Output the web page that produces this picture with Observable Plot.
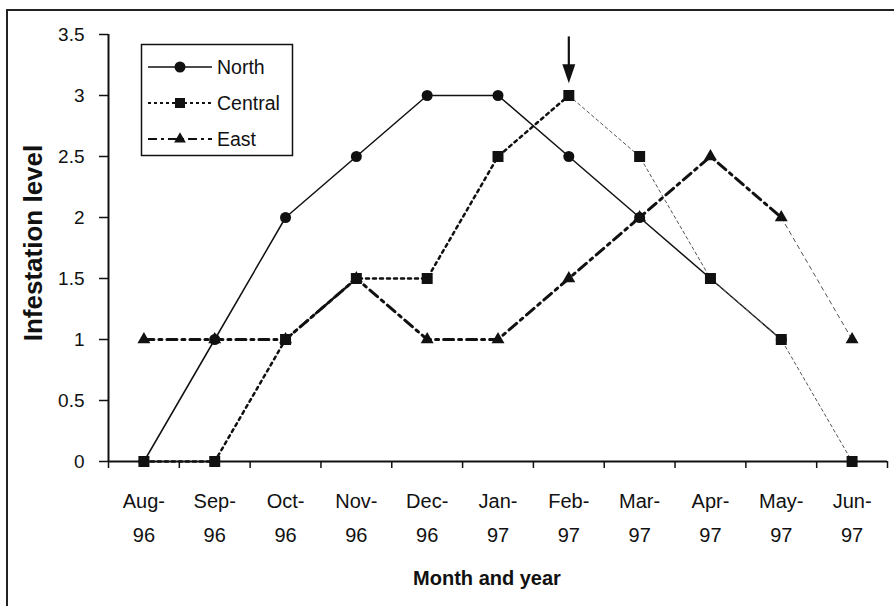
<!DOCTYPE html>
<html>
<head>
<meta charset="utf-8">
<script src="https://cdn.jsdelivr.net/npm/d3@7"></script>
<script src="https://cdn.jsdelivr.net/npm/@observablehq/plot@0.6"></script>
<style>
  html, body { margin: 0; padding: 0; background: #fff; }
  #wrap { position: relative; width: 894px; height: 606px; overflow: hidden; font-family: "Liberation Sans", Arial, sans-serif; }
  #border { position: absolute; left: 6px; top: 9px; width: 920px; height: 640px; border: 2px solid #222; box-sizing: border-box; pointer-events: none; }
  #legend { position: absolute; left: 0; top: 0; }
</style>
</head>
<body>
<div id="wrap"><div id="border"></div></div>
<script>
const categories = ["Aug-96","Sep-96","Oct-96","Nov-96","Dec-96","Jan-97","Feb-97","Mar-97","Apr-97","May-97","Jun-97"];
const north   = [0, 1, 2, 2.5, 3, 3, 2.5, 2, 1.5, 1, null];
const central = [0, 0, 1, 1.5, 1.5, 2.5, 3, 2.5, 1.5, 1, 0];
const east    = [1, 1, 1, 1.5, 1, 1, 1.5, 2, 2.5, 2, 1];
const seriesNames = ["North", "Central", "East"];
const yTicks = [0, 0.5, 1, 1.5, 2, 2.5, 3, 3.5];
const arrowAt = "Feb-97";
const xTitle = "Month and year";
const yTitle = "Infestation level";

const rows = vals => vals.map((v, i) => ({i, v})).filter(d => d.v != null);
const N = rows(north), C = rows(central), E = rows(east);
const idx = d3.range(categories.length);
const bounds = d3.range(categories.length + 1).map(i => i - 0.5);
const arrowIdx = categories.indexOf(arrowAt);
const arrowTip = central[arrowIdx] + 0.1;
const ink = "#111";
const font = '"Liberation Sans", Arial, sans-serif';

const arrowHead = { draw(c) { c.moveTo(0, 0); c.lineTo(-6.5, -19); c.lineTo(6.5, -19); c.closePath(); } };

const centralSplit = arrowIdx;          // thin dashed after the arrow month
const eastSplit = categories.indexOf("May-97");

const chart = Plot.plot({
  width: 894, height: 606,
  marginLeft: 108, marginRight: 7, marginTop: 34, marginBottom: 145,
  style: { fontFamily: font, color: ink, background: "transparent", overflow: "visible" },
  x: { domain: [-0.5, categories.length - 0.5] },
  y: { domain: [0, 3.5] },
  marks: [
    Plot.axisY({ ticks: yTicks, tickSize: 9, tickPadding: 15, fontSize: 19, label: null, strokeWidth: 1.5, tickFormat: d => String(d) }),
    Plot.axisX({ ticks: bounds, tickSize: 7, tickFormat: () => "", label: null, strokeWidth: 1.5 }),
    Plot.axisX({ ticks: idx, tickSize: 0, tickPadding: 22, fontSize: 20, lineHeight: 1.7,
                 tickFormat: i => categories[i].replace("-", "-\n"), label: null }),
    Plot.ruleX([-0.5], { y1: 0, y2: 3.5, stroke: ink, strokeWidth: 2 }),
    Plot.ruleY([0], { stroke: ink, strokeWidth: 2 }),
    Plot.text([xTitle], { frameAnchor: "bottom", dx: -11, dy: 109, lineAnchor: "top", fontSize: 20, fontWeight: "bold", fill: ink }),
    // North
    Plot.line(N, { x: "i", y: "v", stroke: ink, strokeWidth: 1.5 }),
    // Central
    Plot.line(C.filter(d => d.i <= centralSplit), { x: "i", y: "v", stroke: ink, strokeWidth: 2.5, strokeDasharray: "3,4" }),
    Plot.line(C.filter(d => d.i >= centralSplit), { x: "i", y: "v", stroke: "#555", strokeWidth: 1, strokeDasharray: "3,3" }),
    // East
    Plot.line(E.filter(d => d.i <= eastSplit), { x: "i", y: "v", stroke: ink, strokeWidth: 3, strokeDasharray: "10,5,3,5" }),
    Plot.line(E.filter(d => d.i >= eastSplit), { x: "i", y: "v", stroke: "#555", strokeWidth: 1, strokeDasharray: "4,4" }),
    // markers
    Plot.dot(N, { x: "i", y: "v", symbol: "circle", r: 5.5, fill: ink }),
    Plot.dot(E, { x: "i", y: "v", symbol: "triangle", r: 4.8, fill: ink }),
    Plot.dot(C, { x: "i", y: "v", symbol: "square", r: 6.2, fill: ink }),
    // arrow
    Plot.ruleX([arrowIdx], { y1: 3.48, y2: arrowTip + 0.1, stroke: ink, strokeWidth: 2.2 }),
    Plot.dot([arrowIdx], { x: d => d, y: arrowTip, symbol: arrowHead, r: 5, fill: ink })
  ]
});
chart.style.position = "absolute";
chart.style.left = "0px";
chart.style.top = "0px";
const wrap = document.getElementById("wrap");
wrap.insertBefore(chart, wrap.firstChild);

// Overlay: y title and legend box
const lg = d3.select(wrap).append("svg").attr("id", "legend").attr("width", 894).attr("height", 606);
lg.append("text").attr("transform", "translate(42,243) rotate(-90)")
  .attr("text-anchor", "middle").attr("font-size", 26).attr("font-weight", "bold")
  .attr("font-family", font).attr("fill", ink).text(yTitle);

const styles = [
  { dash: null, width: 1.5, sym: d3.symbolCircle, size: Math.PI * 5.5 * 5.5 },
  { dash: "3,3", width: 2, sym: d3.symbolSquare, size: 100 },
  { dash: "9,4,3,4", width: 2, sym: d3.symbolTriangle, size: 60 }
];
lg.append("rect").attr("x", 141.5).attr("y", 44.5).attr("width", 151).attr("height", 111)
  .attr("fill", "#fff").attr("stroke", ink).attr("stroke-width", 1.5);
seriesNames.forEach((name, k) => {
  const y = 67 + k * 36;
  const s = styles[k];
  lg.append("line").attr("x1", 148).attr("x2", 212).attr("y1", y).attr("y2", y)
    .attr("stroke", ink).attr("stroke-width", s.width).attr("stroke-dasharray", s.dash);
  lg.append("path").attr("d", d3.symbol().type(s.sym).size(s.size)()).attr("transform", `translate(180,${y})`).attr("fill", ink);
  lg.append("text").attr("x", 217).attr("y", y).attr("dy", "0.35em").attr("font-size", 19.5)
    .attr("font-family", font).attr("fill", ink).text(name);
});
</script>
</body>
</html>
